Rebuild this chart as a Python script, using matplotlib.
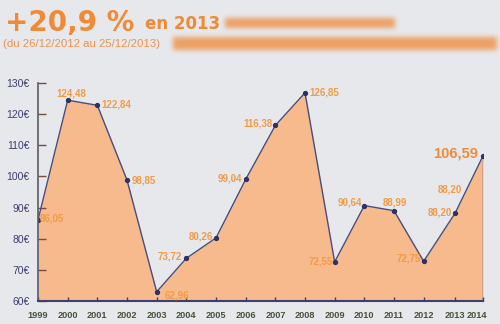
import numpy as np
from matplotlib import pyplot as plt
from matplotlib.transforms import ScaledTranslation

# cours au 25/12 de chaque annee
years = [1999, 2000, 2001, 2002, 2003, 2004, 2005, 2006, 2007, 2008,
         2009, 2010, 2011, 2012, 2013.06, 2014]
values = [86.05, 124.48, 122.84, 98.85, 62.96, 73.72, 80.26, 99.04, 116.38,
          126.85, 72.55, 90.64, 88.99, 72.75, 88.20, 106.59]
year_labels = ['1999', '2000', '2001', '2002', '2003', '2004', '2005', '2006',
               '2007', '2008', '2009', '2010', '2011', '2012', '2013', '2014']
yticks = [60, 70, 80, 90, 100, 110, 120, 130]

# placement des etiquettes (decalage en pixels, alignement)
label_pos = [(2, 1, 'left'), (4, 7, 'center'), (4, 1, 'left'), (5, 0, 'left'),
             (8, -4, 'left'), (-4, 2, 'right'), (-3, 1, 'right'), (-4, 1, 'right'),
             (-3, 2, 'right'), (4, 0, 'left'), (-2, 0, 'right'), (-2, 3, 'right'),
             (1, 8, 'center'), (-3, 3, 'right'), (-3, 1, 'right'), (-5, 2, 'right')]

bg = '#E7E8EC'
orange = '#F29A45'
fill_col = '#F6BA8C'
line_col = '#4A4D7A'

fig = plt.figure(figsize=(5, 3.24), dpi=100, facecolor=bg)

# bandeaux floutes du titre
W, H = 500, 324
mask = np.zeros((H, W))
mask[18:28, 225:395] = 1.0
mask[37:50, 173:497] = 1.0
k = np.exp(-0.5 * (np.arange(-8, 9) / 2.5) ** 2)
k /= k.sum()
mask = np.apply_along_axis(lambda r: np.convolve(r, k, mode='same'), 1, mask)
mask = np.apply_along_axis(lambda c: np.convolve(c, k, mode='same'), 0, mask)
rgba = np.zeros((H, W, 4))
rgba[..., 0] = 0.94
rgba[..., 1] = 0.58
rgba[..., 2] = 0.30
rgba[..., 3] = mask * 0.85
bax = fig.add_axes([0, 0, 1, 1])
bax.imshow(rgba, extent=(0, W, H, 0), aspect='auto', interpolation='bilinear')
bax.set_xlim(0, W)
bax.set_ylim(H, 0)
bax.axis('off')

fig.text(5 / W, 1 - 31 / H, '+20,9 %', fontsize=20, fontweight='bold',
         color='#F08A35', family='DejaVu Sans', ha='left', va='baseline')
fig.text(145 / W, 1 - 29 / H, 'en 2013', fontsize=12, fontweight='bold',
         color='#F08A35', family='DejaVu Sans', ha='left', va='baseline')
fig.text(3 / W, 1 - 44 / H, '(du 26/12/2012 au 25/12/2013)', fontsize=8.2,
         color='#EE9248', family='Liberation Sans', ha='left', va='center')

ax = fig.add_axes([38 / W, 23 / H, 445 / W, 218 / H])
ax.set_facecolor('none')
ax.fill_between(years, values, 60, color=fill_col, lw=0)
ax.plot(years, values, color=line_col, lw=1.0)
ax.plot(years, values, 'o', color='#2E3162', ms=2.8)
ax.vlines(years[-1], 60, values[-1], color=line_col, lw=1.0)

ax.set_xlim(1999, 2014)
ax.set_ylim(60, 130)

for spine in ['top', 'right']:
    ax.spines[spine].set_visible(False)
ax.spines['left'].set_color('#5A5A66')
ax.spines['left'].set_linewidth(1.2)
ax.spines['bottom'].set_color('#3C3F70')
ax.spines['bottom'].set_linewidth(1.5)

ax.set_yticks(yticks)
ax.set_yticklabels([f'{v}€' for v in yticks], family='Liberation Sans',
                   fontsize=7.5, color='#3B3F6E')
ax.tick_params(axis='y', direction='in', length=6, width=1.0, color='#7B4B3B',
               pad=6)
ax.set_xticks(years)
ax.set_xticklabels(year_labels, family='Liberation Sans', fontsize=6.6,
                   color='#46533A', fontweight='bold')
ax.tick_params(axis='x', direction='in', length=3, width=1.0, color='#3C3F60',
               pad=7)
last = ax.get_xticklabels()[-1]
last.set_transform(last.get_transform() +
                   ScaledTranslation(-6 / 100, 0, fig.dpi_scale_trans))

for i, (x, v) in enumerate(zip(years, values)):
    dx, dy, ha = label_pos[i]
    big = i == len(values) - 1
    ax.annotate(f'{v:.2f}'.replace('.', ','), (x, v), xytext=(dx, dy),
                textcoords='offset pixels', ha=ha, va='center',
                fontsize=10.6 if big else 7, fontweight='bold',
                color='#F08A3A' if big else orange, family='Liberation Sans')

# seconde etiquette 2013
ax.annotate(f'{values[-2]:.2f}'.replace('.', ','), (years[-2], values[-2]),
            xytext=(-5, 24), textcoords='offset pixels', ha='center',
            va='center', fontsize=7, fontweight='bold', color=orange,
            family='Liberation Sans')

fig.savefig('out.png', dpi=100, facecolor=bg)
